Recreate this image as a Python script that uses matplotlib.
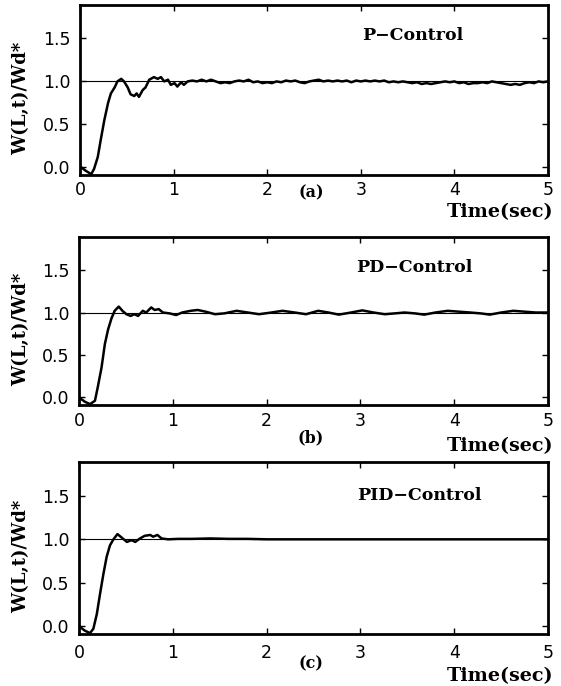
import numpy as np
import matplotlib
matplotlib.use("Agg")
import matplotlib.pyplot as plt

# ---- data ----
# P-control: start-up transient, then the rippled tail (0.05 s steps from 1.15 s)
p_t = [0.0, 0.06, 0.12, 0.15, 0.19, 0.22, 0.26, 0.30, 0.33, 0.37, 0.40, 0.44,
       0.47, 0.51, 0.54, 0.58, 0.605, 0.63, 0.67, 0.70, 0.74, 0.79, 0.83, 0.865,
       0.90, 0.94, 0.97, 1.01, 1.04, 1.08, 1.11]
p_y = [0.01, -0.04, -0.08, -0.02, 0.12, 0.31, 0.55, 0.75, 0.86, 0.93, 1.00, 1.03,
       1.00, 0.93, 0.85, 0.83, 0.86, 0.82, 0.90, 0.93, 1.02, 1.05, 1.03, 1.05,
       1.00, 1.02, 0.96, 0.98, 0.94, 0.99, 0.96]
p_tail = [1.00, 1.01, 1.00, 1.02, 1.00, 1.02, 1.00, 0.98, 0.99, 0.98, 1.00, 1.01,
          1.00, 1.02, 0.99, 1.00, 0.98, 0.99, 0.98, 1.00, 0.99, 1.01, 1.00, 1.01,
          0.99, 0.98, 1.00, 1.01, 1.02, 1.00, 1.01, 1.00, 1.01, 1.00, 1.01, 0.99,
          1.01, 1.00, 1.01, 1.00, 1.01, 1.00, 1.01, 0.99, 1.00, 0.99, 1.00, 0.99,
          0.98, 0.99, 0.97, 0.98, 0.97, 0.98, 0.99, 1.00, 0.99, 1.00, 0.98, 0.99,
          0.97, 0.98, 0.98, 0.99, 0.98, 1.00, 0.99, 0.98, 0.97, 0.96, 0.97, 0.96,
          0.98, 0.99, 0.98, 1.00, 0.99, 1.00]

# PD-control
pd_t = [0.0, 0.06, 0.117, 0.17, 0.20, 0.24, 0.276, 0.31, 0.346, 0.38, 0.424,
        0.463, 0.505, 0.55, 0.59, 0.63, 0.68, 0.717, 0.77, 0.806, 0.85, 0.894,
        0.965, 1.035, 1.10, 1.19, 1.265, 1.35, 1.45, 1.55, 1.68, 1.80, 1.92, 2.05,
        2.17, 2.30, 2.42, 2.55, 2.66, 2.77, 2.90, 3.02, 3.14, 3.26, 3.37, 3.47,
        3.58, 3.68, 3.80, 3.93, 4.05, 4.17, 4.28, 4.38, 4.50, 4.63, 4.75, 4.87, 5.0]
pd_y = [0.0, -0.05, -0.08, -0.04, 0.12, 0.35, 0.63, 0.80, 0.93, 1.02, 1.07,
        1.02, 0.98, 0.96, 0.98, 0.96, 1.02, 1.00, 1.06, 1.03, 1.04, 1.00,
        0.99, 0.97, 1.00, 1.02, 1.03, 1.01, 0.98, 0.99, 1.02, 1.00, 0.98, 1.00,
        1.02, 1.00, 0.98, 1.02, 1.00, 0.975, 1.00, 1.025, 1.00, 0.98, 0.99, 1.00,
        0.99, 0.975, 1.00, 1.02, 1.01, 1.00, 0.99, 0.975, 1.00, 1.02, 1.01, 1.00, 1.00]

# PID-control
pid_t = [0.0, 0.06, 0.117, 0.153, 0.19, 0.224, 0.26, 0.295, 0.33, 0.367, 0.41,
         0.455, 0.51, 0.56, 0.60, 0.65, 0.70, 0.76, 0.79, 0.836, 0.88, 0.95,
         1.06, 1.2, 1.4, 1.6, 1.8, 2.0, 2.5, 3.0, 3.5, 4.0, 4.5, 5.0]
pid_y = [0.0, -0.05, -0.08, -0.03, 0.14, 0.37, 0.60, 0.80, 0.93, 1.00, 1.06,
         1.02, 0.97, 0.99, 0.97, 1.01, 1.04, 1.05, 1.03, 1.05, 1.01, 1.00,
         1.005, 1.005, 1.01, 1.005, 1.005, 1.0, 1.0, 1.0, 1.0, 1.0, 1.0, 1.0]

titles = ["P\u2212Control", "PD\u2212Control", "PID\u2212Control"]
tags = ["(a)", "(b)", "(c)"]
x_ticks = [0, 1, 2, 3, 4, 5]
y_ticks = [0.0, 0.5, 1.0, 1.5]

p_time = list(p_t) + list(np.linspace(1.15, 5.0, len(p_tail)))
series = [(p_time, list(p_y) + p_tail), (pd_t, pd_y), (pid_t, pid_y)]

W, H = 561, 686
fig = plt.figure(figsize=(W / 100, H / 100), dpi=100)

# panel boxes in pixels: (left, top, right, bottom)
boxes = [(80, 5, 548, 175), (79, 237, 548, 405), (79, 462, 548, 634)]
title_pos = [(3.56, 1.54), (3.58, 1.53), (3.63, 1.50)]
xpad = [4, 5, 7]
tag_y = [193, 438, 664]
time_y = [212, 446, 676]

serif = "DejaVu Serif"
sans = "DejaVu Sans"

for i, (l, t, r, b) in enumerate(boxes):
    ax = fig.add_axes([l / W, 1 - b / H, (r - l) / W, (b - t) / H])
    tt, yy = series[i]
    ax.axhline(1.0, color="black", lw=0.8)
    ax.plot(tt, yy, color="black", lw=1.8)
    ax.set_xlim(0, 5)
    ax.set_ylim(-0.09, 1.89)
    ax.set_xticks(x_ticks)
    ax.set_yticks(y_ticks)
    ax.set_yticklabels(["%.1f" % v for v in y_ticks])
    ax.tick_params(direction="in", top=True, right=True, length=4, width=1,
                   labelsize=12.5)
    ax.tick_params(axis="x", pad=xpad[i])
    ax.tick_params(axis="y", pad=7)
    for lab in ax.get_xticklabels() + ax.get_yticklabels():
        lab.set_family(sans)
    for s in ax.spines.values():
        s.set_linewidth(2)
    ax.text(title_pos[i][0], title_pos[i][1], titles[i], ha="center", va="center",
            family=serif, fontweight="bold", fontsize=12.5)

    # y label, tag and time label
    fig.text(21 / W, 1 - ((t + b) / 2 + 8) / H, "W(L,t)/Wd*", rotation=90,
             ha="center", va="center", family=serif, fontweight="bold", fontsize=13)
    fig.text(311 / W, 1 - tag_y[i] / H, tags[i], ha="center", va="center",
             family=serif, fontweight="bold", fontsize=11.5)
    fig.text(553 / W, 1 - time_y[i] / H, "Time(sec)", ha="right", va="center",
             family=serif, fontweight="bold", fontsize=13.8)

plt.savefig("out.png", dpi=100)
